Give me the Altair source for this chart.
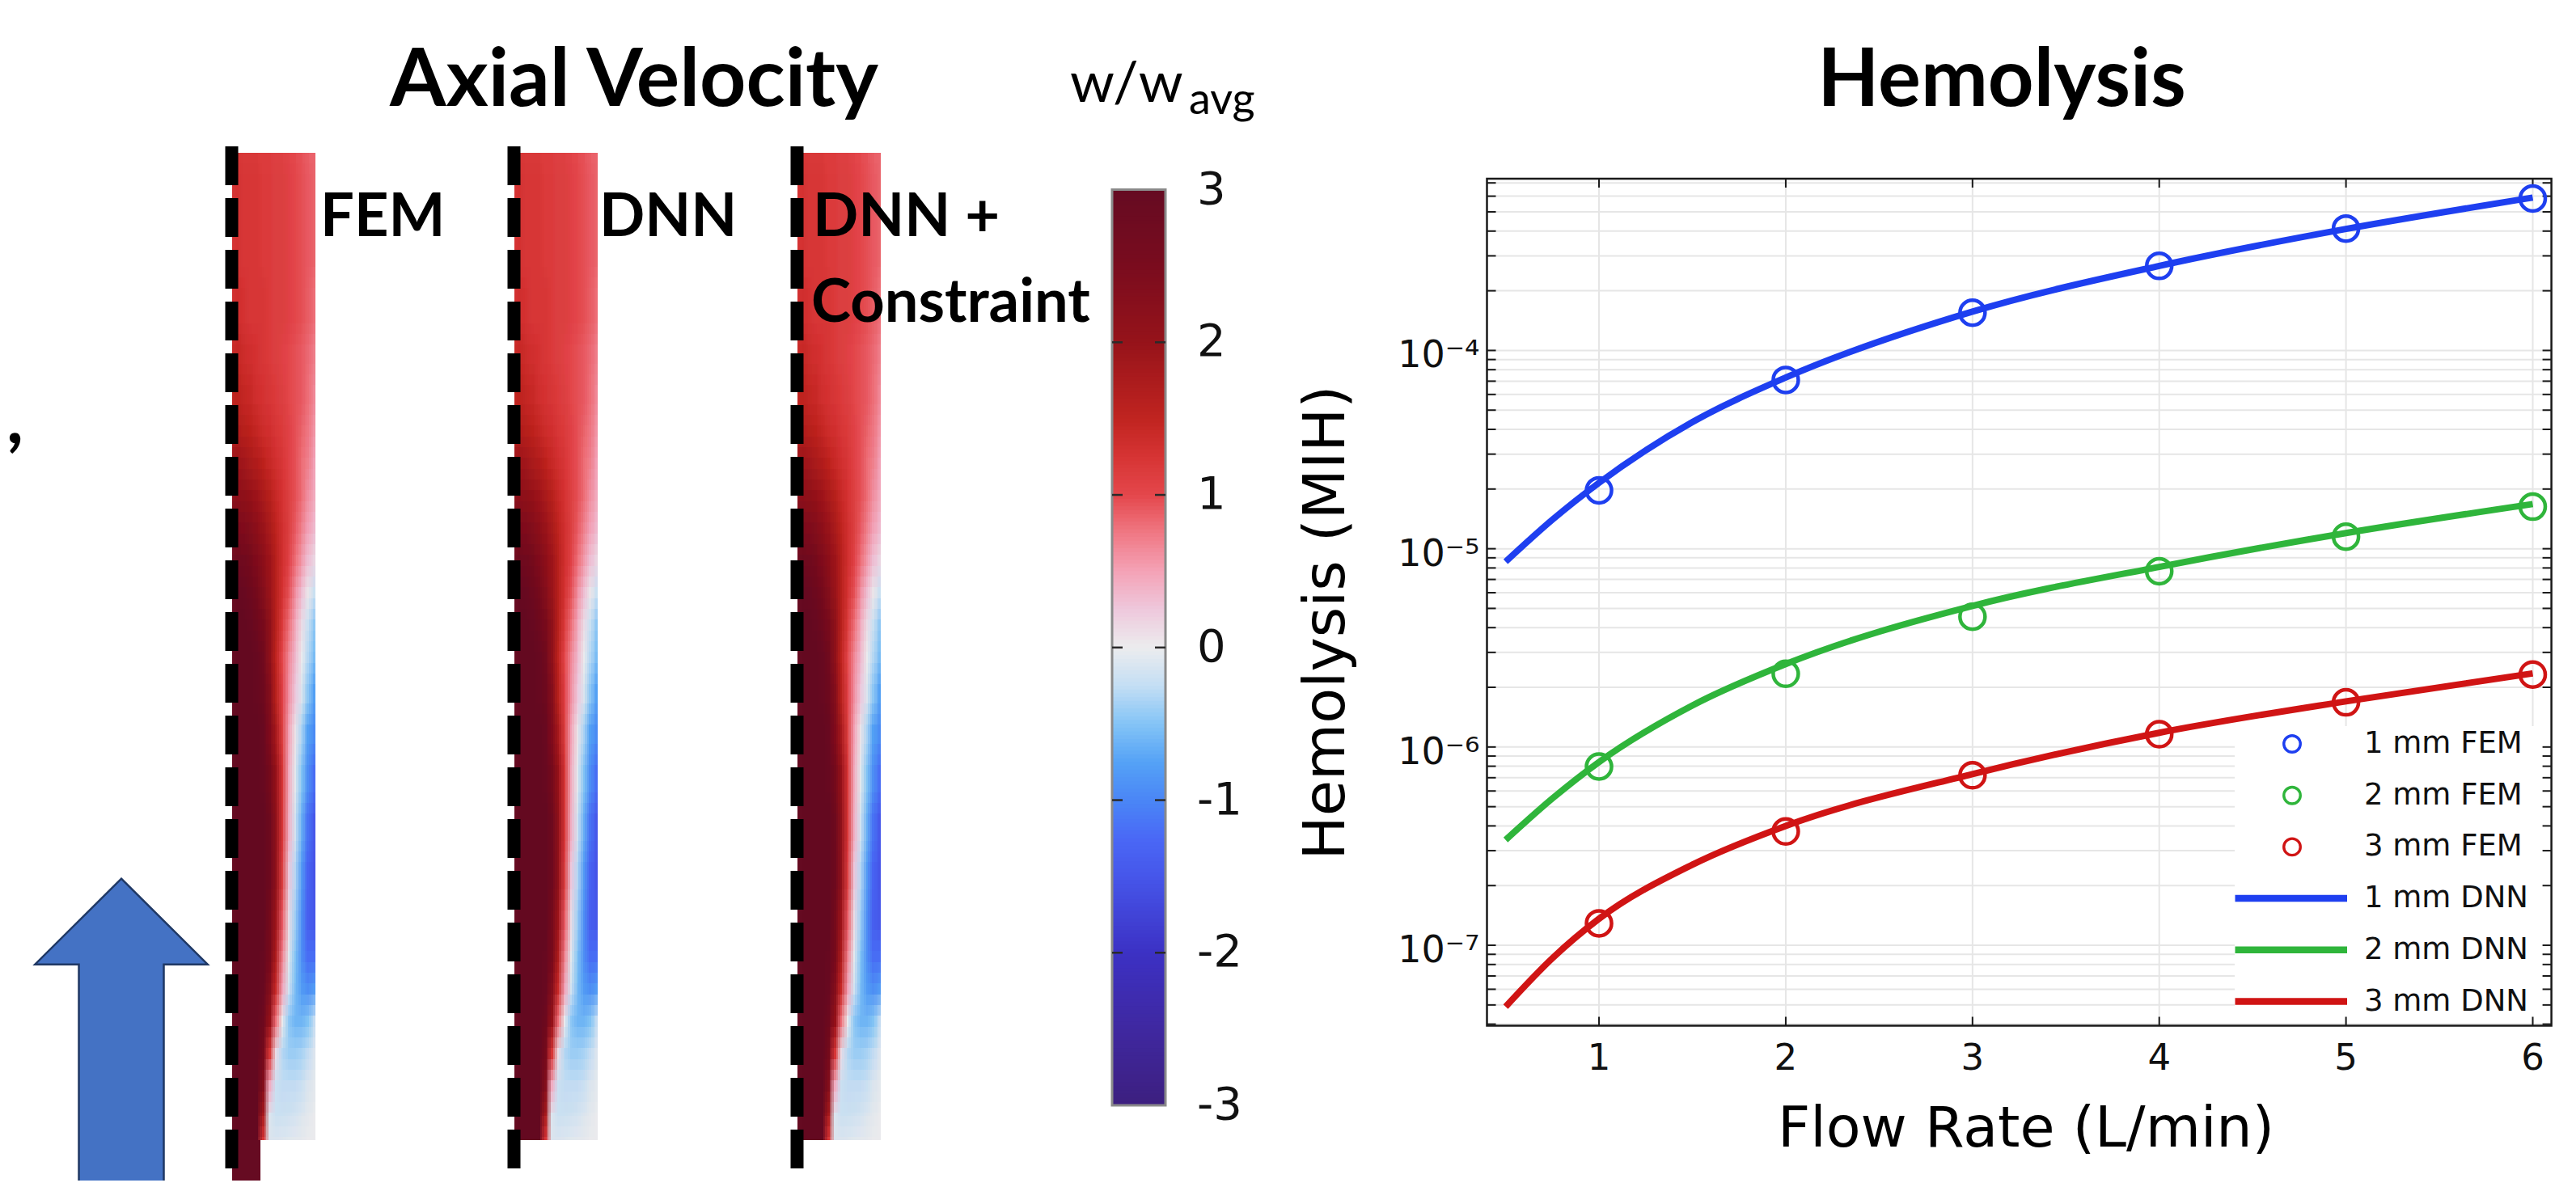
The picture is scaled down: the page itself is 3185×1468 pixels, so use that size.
import altair as alt
import pandas as pd

alt.data_transformers.disable_max_rows()

# ------------------------------------------------------------------
# Hemolysis data
# ------------------------------------------------------------------
SERIES = ["1 mm", "2 mm", "3 mm"]
SERIES_COLORS = ["#1e3ff0", "#2fb53b", "#d01414"]

FLOW_FEM = [1, 2, 3, 4, 5, 6]
FEM_1MM = [1.97e-5, 7.1e-5, 1.55e-4, 2.67e-4, 4.12e-4, 5.84e-4]
FEM_2MM = [7.97e-7, 2.34e-6, 4.54e-6, 7.7e-6, 1.15e-5, 1.63e-5]
FEM_3MM = [1.29e-7, 3.75e-7, 7.2e-7, 1.16e-6, 1.68e-6, 2.32e-6]

FLOW_DNN = [0.5, 0.75, 1, 1.5, 2, 3, 4, 5, 6]
DNN_1MM = [8.6e-6, 1.4e-5, 2.15e-5, 4.35e-5, 7.3e-5, 1.57e-4, 2.67e-4, 4.1e-4, 5.9e-4]
DNN_2MM = [3.4e-7, 5.5e-7, 8.4e-7, 1.62e-6, 2.62e-6, 5.15e-6, 8.1e-6, 1.2e-5, 1.68e-5]
DNN_3MM = [4.9e-8, 8.6e-8, 1.36e-7, 2.55e-7, 4.0e-7, 7.3e-7, 1.18e-6, 1.7e-6, 2.35e-6]

LEGEND_LABELS = ["1 mm FEM", "2 mm FEM", "3 mm FEM", "1 mm DNN", "2 mm DNN", "3 mm DNN"]

X_TICKS = [1, 2, 3, 4, 5, 6]
Y_DECADES = [-7, -6, -5, -4]
SUPERSCRIPT = {"-": "\u207b", "4": "\u2074", "5": "\u2075", "6": "\u2076", "7": "\u2077"}

# ------------------------------------------------------------------
# Axial velocity field w/w_avg (rows top -> bottom, 13 radial columns)
# ------------------------------------------------------------------
PANEL_NAMES = ["FEM", "DNN", "DNN + Constraint"]
Z_EDGES = [189, 260, 330, 400, 450, 500, 540, 580, 620, 660, 700, 740, 780, 820,
           870, 920, 980, 1040, 1100, 1150, 1190, 1230, 1270, 1310, 1350, 1380, 1410]
W_FIELD = [
    [1.25, 1.2, 1.2, 1.2, 1.15, 1.15, 1.1, 1.1, 1.05, 1.0, 0.95, 0.9, 0.85],
    [1.25, 1.2, 1.2, 1.2, 1.15, 1.15, 1.1, 1.1, 1.05, 1.0, 0.95, 0.9, 0.85],
    [1.3, 1.25, 1.2, 1.2, 1.2, 1.15, 1.1, 1.1, 1.05, 1.0, 0.95, 0.88, 0.8],
    [1.4, 1.35, 1.3, 1.25, 1.2, 1.15, 1.1, 1.05, 1.0, 0.95, 0.9, 0.82, 0.72],
    [1.5, 1.45, 1.4, 1.3, 1.25, 1.2, 1.15, 1.1, 1.0, 0.95, 0.9, 0.8, 0.65],
    [1.65, 1.6, 1.55, 1.45, 1.35, 1.3, 1.2, 1.15, 1.05, 0.95, 0.85, 0.75, 0.58],
    [1.9, 1.85, 1.75, 1.65, 1.55, 1.4, 1.3, 1.2, 1.05, 0.95, 0.8, 0.7, 0.5],
    [2.15, 2.1, 2.0, 1.9, 1.75, 1.6, 1.4, 1.25, 1.1, 0.95, 0.8, 0.6, 0.45],
    [2.45, 2.4, 2.3, 2.15, 1.95, 1.75, 1.5, 1.3, 1.1, 0.9, 0.7, 0.5, 0.35],
    [2.75, 2.7, 2.6, 2.4, 2.15, 1.9, 1.6, 1.3, 1.05, 0.8, 0.55, 0.3, 0.15],
    [2.95, 2.9, 2.8, 2.6, 2.3, 1.95, 1.6, 1.25, 0.95, 0.6, 0.3, 0.05, -0.2],
    [3.0, 3.0, 2.95, 2.8, 2.5, 2.1, 1.6, 1.15, 0.8, 0.45, 0.1, -0.2, -0.45],
    [3.0, 3.0, 3.0, 2.95, 2.7, 2.1, 1.5, 1.0, 0.65, 0.35, 0.0, -0.3, -0.55],
    [3.0, 3.0, 3.0, 2.95, 2.8, 2.3, 1.6, 1.05, 0.6, 0.25, -0.1, -0.45, -0.75],
    [3.0, 3.0, 3.0, 3.0, 2.9, 2.4, 1.8, 1.1, 0.5, 0.05, -0.35, -0.75, -0.95],
    [3.0, 3.0, 3.0, 3.0, 2.95, 2.6, 2.0, 1.2, 0.45, -0.05, -0.5, -0.9, -1.2],
    [3.0, 3.0, 3.0, 3.0, 3.0, 2.75, 2.1, 1.2, 0.4, -0.15, -0.65, -1.15, -1.45],
    [3.0, 3.0, 3.0, 3.0, 3.0, 2.8, 2.1, 1.1, 0.25, -0.3, -0.8, -1.3, -1.5],
    [3.0, 3.0, 3.0, 3.0, 3.0, 2.6, 1.9, 0.9, 0.1, -0.4, -0.9, -1.35, -1.45],
    [3.0, 3.0, 3.0, 3.0, 2.95, 2.5, 1.7, 0.7, -0.05, -0.5, -0.9, -1.2, -1.2],
    [3.0, 3.0, 3.0, 3.0, 2.9, 2.3, 1.4, 0.5, -0.15, -0.55, -0.8, -0.9, -0.8],
    [3.0, 3.0, 3.0, 3.0, 2.8, 2.0, 0.8, 0.0, -0.45, -0.6, -0.6, -0.5, -0.25],
    [3.0, 3.0, 3.0, 3.0, 2.6, 1.2, 0.1, -0.3, -0.4, -0.4, -0.35, -0.25, -0.1],
    [3.0, 3.0, 3.0, 3.0, 2.3, 0.4, -0.2, -0.25, -0.25, -0.25, -0.2, -0.1, -0.05],
    [3.0, 3.0, 3.0, 3.0, 1.8, -0.1, -0.2, -0.2, -0.18, -0.15, -0.1, -0.05, 0.0],
    [3.0, 3.0, 3.0, 3.0, 1.2, -0.1, -0.1, -0.08, -0.06, -0.05, -0.03, 0.0, 0.0],
]
INLET_W_VALUE = 3.0

CBAR_TICKS = [3, 2, 1, 0, -1, -2, -3]
CMAP_STOPS = [-3, -2.5, -2, -1.5, -1.25, -1, -0.75, -0.5, -0.25, 0,
              0.25, 0.5, 0.75, 1, 1.25, 1.5, 2, 2.5, 3]
CMAP_COLORS = ["#3d1f7f", "#3f28a0", "#3c31c4", "#4656ea", "#4a68f6", "#4a86f6",
               "#55a2f6", "#84c4f6", "#c4def4", "#ececee", "#eec8dc", "#f4a2b6",
               "#f07884", "#e4474b", "#d63434", "#c02420", "#96131a", "#7a0c1e", "#660b22"]

# ------------------------------------------------------------------
# Layout (pixel geometry of the figure)
# ------------------------------------------------------------------
OFF = 8
W, H = 3169, 1452
PANEL_LEFT = [287, 636, 986]
STRIP_W = 103
INLET_W = 35
DASH_TOP = 181
CB_X0, CB_X1, CB_TOP, CB_BOTTOM = 1375, 1441, 234.6, 1367
HX_DOMAIN = [0.4, 6.1]
HX_RANGE = [1838.5, 3154.6]
HY_DOMAIN = [3.93e-8, 7.35e-4]
HY_RANGE = [1268.5, 221]
LEG_X_LINE = (2763.5, 2902)
LEG_X_MARK = 2834
LEG_X_TEXT = 2923
LEG_Y0, LEG_DY = 920, 63.7
LEG_BOX = (2763, 3153, 898, 1262)
SMOOTH_X = 3            # sub-cell render passes (horizontal)
SMOOTH_Y = [0, 13, 26]  # sub-row render offsets in px (vertical)

PX_X = alt.Scale(domain=[OFF, OFF + W], range=[0, W], nice=False, zero=False)
PX_Y = alt.Scale(domain=[OFF, OFF + H], range=[0, H], nice=False, zero=False)
CMAP = alt.Scale(domain=CMAP_STOPS, range=CMAP_COLORS, clamp=True, interpolate="rgb")
HX = alt.Scale(domain=HX_DOMAIN, range=[v - OFF for v in HX_RANGE], nice=False, zero=False)
HY = alt.Scale(type="log", domain=HY_DOMAIN, range=[v - OFF for v in HY_RANGE], nice=False)
CB_Y = alt.Scale(domain=[-3, 3], range=[CB_BOTTOM - OFF, CB_TOP - OFF], nice=False, zero=False)
SER_COLOR = alt.Scale(domain=SERIES, range=SERIES_COLORS)


def text_layer(txt, x, y, size, font="Lato", weight="normal", align="left",
               baseline="alphabetic", angle=0, color="#000000"):
    return alt.Chart(pd.DataFrame({"t": [txt]})).mark_text(
        font=font, fontSize=size, fontWeight=weight, align=align,
        baseline=baseline, angle=angle, color=color
    ).encode(x=alt.value(x - OFF), y=alt.value(y - OFF), text="t:N")


# ---------------- velocity strips ----------------
# Each read cell is drawn in several slightly offset passes with decreasing
# opacity (1, 1/2, 1/3, ...), which blends neighbouring cells like the
# smooth shading of the original.
ncol = len(W_FIELD[0])
cw = STRIP_W / ncol
ztop, zbot = Z_EDGES[0], Z_EDGES[-1]
cells = []
passes = [(a, dy) for a in range(SMOOTH_X) for dy in SMOOTH_Y]
for k, (a, dy) in enumerate(passes):
    op = 1.0 / (k + 1)
    for p, xl in enumerate(PANEL_LEFT):
        xr = xl + STRIP_W
        xedges = [round(xl + j * cw + a * cw / SMOOTH_X) for j in range(ncol + 1)]
        zedges = [round(z + dy) for z in Z_EDGES]
        for i, row in enumerate(W_FIELD):
            y0, y1 = max(zedges[i], ztop), min(zedges[i + 1], zbot)
            if y1 <= y0:
                continue
            for j, w in enumerate(row):
                x0, x1 = max(xedges[j], xl), min(xedges[j + 1], xr)
                if x1 <= x0:
                    continue
                cells.append({"panel": PANEL_NAMES[p], "x0": x0, "x1": x1,
                              "y0": y0, "y1": y1, "w": w, "op": op})
cells.append({"panel": "FEM", "x0": PANEL_LEFT[0], "x1": PANEL_LEFT[0] + INLET_W,
              "y0": zbot, "y1": OFF + H + 30, "w": INLET_W_VALUE, "op": 1.0})
cells_df = pd.DataFrame(cells)

strips = alt.Chart(cells_df).mark_rect(strokeWidth=0).encode(
    x=alt.X("x0:Q", scale=PX_X, axis=None), x2="x1:Q",
    y=alt.Y("y0:Q", scale=PX_Y, axis=None), y2="y1:Q",
    color=alt.Color("w:Q", scale=CMAP, legend=None),
    opacity=alt.Opacity("op:Q", scale=None, legend=None),
)

dash_df = pd.DataFrame({"x": [xl - 0.5 for xl in PANEL_LEFT], "y0": DASH_TOP, "y1": OFF + H + 40})
dashes = alt.Chart(dash_df).mark_rule(color="#000000", strokeWidth=16, strokeDash=[48, 16]).encode(
    x=alt.X("x:Q", scale=PX_X, axis=None),
    y=alt.Y("y0:Q", scale=PX_Y, axis=None), y2="y1:Q",
)

# ---------------- colorbar ----------------
steps = [-3 + k * 0.025 for k in range(240)]
cb_df = pd.DataFrame({"v0": steps, "v1": [s + 0.033 for s in steps],
                      "v": [s + 0.0125 for s in steps], "x0": CB_X0, "x1": CB_X1})
cb_cells = alt.Chart(cb_df).mark_rect(strokeWidth=0).encode(
    x=alt.X("x0:Q", scale=PX_X, axis=None), x2="x1:Q",
    y=alt.Y("v0:Q", scale=CB_Y, axis=None), y2="v1:Q",
    color=alt.Color("v:Q", scale=CMAP, legend=None),
)
cb_frame = alt.Chart(pd.DataFrame({"x0": [CB_X0], "x1": [CB_X1], "a": [-3], "b": [3]})).mark_rect(
    fillOpacity=0, stroke="#8a8a8a", strokeWidth=3).encode(
    x=alt.X("x0:Q", scale=PX_X, axis=None), x2="x1:Q",
    y=alt.Y("a:Q", scale=CB_Y, axis=None), y2="b:Q")
inner = [t for t in CBAR_TICKS if -3 < t < 3]
cb_tick_df = pd.DataFrame({"v": inner * 2,
                           "xa": [CB_X0] * len(inner) + [CB_X1 - 13] * len(inner),
                           "xb": [CB_X0 + 13] * len(inner) + [CB_X1] * len(inner)})
cb_ticks = alt.Chart(cb_tick_df).mark_rule(color="#2a2a2a", strokeWidth=2.5).encode(
    x=alt.X("xa:Q", scale=PX_X, axis=None), x2="xb:Q",
    y=alt.Y("v:Q", scale=CB_Y, axis=None))
cb_lab_df = pd.DataFrame({"v": CBAR_TICKS, "t": [str(t) for t in CBAR_TICKS]})
cb_labels = alt.Chart(cb_lab_df).mark_text(font="DejaVu Sans", fontSize=56, align="left",
                                           baseline="middle", color="#111111").encode(
    x=alt.value(1480 - OFF), y=alt.Y("v:Q", scale=CB_Y, axis=None), text="t:N")
cbar = alt.layer(cb_cells, cb_frame, cb_ticks, cb_labels)

# ---------------- hemolysis plot ----------------
ymin, ymax = HY_DOMAIN
xmin, xmax = HX_DOMAIN
grid_y = [k * 10.0 ** e for e in range(-8, -3) for k in range(1, 10) if ymin < k * 10.0 ** e < ymax]
hgrid_df = pd.DataFrame({"y": grid_y, "x0": xmin, "x1": xmax})
vgrid_df = pd.DataFrame({"x": X_TICKS, "y0": ymin, "y1": ymax})

hgrid = alt.Chart(hgrid_df).mark_rule(color="#e6e6e6", strokeWidth=2).encode(
    x=alt.X("x0:Q", scale=HX, axis=None), x2="x1:Q", y=alt.Y("y:Q", scale=HY, axis=None))
vgrid = alt.Chart(vgrid_df).mark_rule(color="#e6e6e6", strokeWidth=2).encode(
    x=alt.X("x:Q", scale=HX, axis=None), y=alt.Y("y0:Q", scale=HY, axis=None), y2="y1:Q")
hemo_under = alt.layer(hgrid, vgrid)

fem_rows, dnn_rows = [], []
for s, vals in zip(SERIES, [FEM_1MM, FEM_2MM, FEM_3MM]):
    for f, v in zip(FLOW_FEM, vals):
        fem_rows.append({"flow": f, "mih": v, "series": s})
for s, vals in zip(SERIES, [DNN_1MM, DNN_2MM, DNN_3MM]):
    for f, v in zip(FLOW_DNN, vals):
        dnn_rows.append({"flow": f, "mih": v, "series": s})
fem_df = pd.DataFrame(fem_rows)
dnn_df = pd.DataFrame(dnn_rows)

frame = alt.Chart(pd.DataFrame({"x0": [xmin], "x1": [xmax], "y0": [ymin], "y1": [ymax]})).mark_rect(
    fillOpacity=0, stroke="#1a1a1a", strokeWidth=2.5).encode(
    x=alt.X("x0:Q", scale=HX, axis=None), x2="x1:Q",
    y=alt.Y("y0:Q", scale=HY, axis=None), y2="y1:Q")
tick_left = alt.Chart(hgrid_df).mark_rule(color="#1a1a1a", strokeWidth=2, x2Offset=11).encode(
    x=alt.X("x0:Q", scale=HX, axis=None), x2="x0:Q", y=alt.Y("y:Q", scale=HY, axis=None))
tick_right = alt.Chart(hgrid_df).mark_rule(color="#1a1a1a", strokeWidth=2, x2Offset=-11).encode(
    x=alt.X("x1:Q", scale=HX, axis=None), x2="x1:Q", y=alt.Y("y:Q", scale=HY, axis=None))
tick_bottom = alt.Chart(vgrid_df).mark_rule(color="#1a1a1a", strokeWidth=2, y2Offset=-11).encode(
    x=alt.X("x:Q", scale=HX, axis=None), y=alt.Y("y0:Q", scale=HY, axis=None), y2="y0:Q")
tick_top = alt.Chart(vgrid_df).mark_rule(color="#1a1a1a", strokeWidth=2, y2Offset=11).encode(
    x=alt.X("x:Q", scale=HX, axis=None), y=alt.Y("y1:Q", scale=HY, axis=None), y2="y1:Q")

lines = alt.Chart(dnn_df).mark_line(strokeWidth=8, interpolate="monotone").encode(
    x=alt.X("flow:Q", scale=HX, axis=None), y=alt.Y("mih:Q", scale=HY, axis=None),
    color=alt.Color("series:N", scale=SER_COLOR, legend=None), detail="series:N")
points = alt.Chart(fem_df).mark_point(filled=False, size=31 ** 2, strokeWidth=4.5, opacity=1).encode(
    x=alt.X("flow:Q", scale=HX, axis=None), y=alt.Y("mih:Q", scale=HY, axis=None),
    color=alt.Color("series:N", scale=SER_COLOR, legend=None))

ylab_df = pd.DataFrame({"y": [10.0 ** e for e in Y_DECADES], "x0": xmin,
                        "t": ["10" + "".join(SUPERSCRIPT[c] for c in str(e)) for e in Y_DECADES]})
ylabels = alt.Chart(ylab_df).mark_text(font="DejaVu Sans", fontSize=46, align="right",
                                       baseline="alphabetic", dx=-9, dy=21, color="#111111").encode(
    x=alt.X("x0:Q", scale=HX, axis=None), y=alt.Y("y:Q", scale=HY, axis=None), text="t:N")
xlab_df = pd.DataFrame({"x": X_TICKS, "y0": ymin, "t": [str(v) for v in X_TICKS]})
xlabels = alt.Chart(xlab_df).mark_text(font="DejaVu Sans", fontSize=45, align="center",
                                       baseline="alphabetic", dy=54, color="#111111").encode(
    x=alt.X("x:Q", scale=HX, axis=None), y=alt.Y("y0:Q", scale=HY, axis=None), text="t:N")
hemo_over = alt.layer(frame, tick_left, tick_right, tick_bottom, tick_top, lines, points, ylabels, xlabels)

# ---------------- legend ----------------
leg_bg = alt.Chart(pd.DataFrame({"x0": [LEG_BOX[0]], "x1": [LEG_BOX[1]],
                                 "y0": [LEG_BOX[2]], "y1": [LEG_BOX[3]]})).mark_rect(
    fill="#ffffff", strokeWidth=0).encode(
    x=alt.X("x0:Q", scale=PX_X, axis=None), x2="x1:Q",
    y=alt.Y("y0:Q", scale=PX_Y, axis=None), y2="y1:Q")
leg_df = pd.DataFrame({"t": LEGEND_LABELS,
                       "series": SERIES + SERIES,
                       "kind": ["FEM"] * 3 + ["DNN"] * 3,
                       "y": [LEG_Y0 + i * LEG_DY for i in range(len(LEGEND_LABELS))]})
leg_pts = alt.Chart(leg_df[leg_df.kind == "FEM"]).mark_point(
    filled=False, size=420, strokeWidth=3.4, opacity=1).encode(
    x=alt.value(LEG_X_MARK - OFF), y=alt.Y("y:Q", scale=PX_Y, axis=None),
    color=alt.Color("series:N", scale=SER_COLOR, legend=None))
leg_lines = alt.Chart(leg_df[leg_df.kind == "DNN"]).mark_rule(strokeWidth=8.5).encode(
    x=alt.value(LEG_X_LINE[0] - OFF), x2=alt.value(LEG_X_LINE[1] - OFF),
    y=alt.Y("y:Q", scale=PX_Y, axis=None),
    color=alt.Color("series:N", scale=SER_COLOR, legend=None))
leg_text = alt.Chart(leg_df).mark_text(font="DejaVu Sans", fontSize=37, align="left",
                                       baseline="middle", color="#111111").encode(
    x=alt.value(LEG_X_TEXT - OFF), y=alt.Y("y:Q", scale=PX_Y, axis=None), text="t:N")
legend_items = alt.layer(leg_pts, leg_lines, leg_text)

# ---------------- arrow ----------------
ARROW_PATH = ("M0,-1 L0.5335,-0.47 L0.2625,-0.47 L0.2625,1 L-0.2625,1 "
              "L-0.2625,-0.47 L-0.5335,-0.47 Z")
ARROW_SCALE = 200
arrow = alt.Chart(pd.DataFrame({"a": [0]})).mark_point(
    shape=ARROW_PATH, size=(2 * ARROW_SCALE) ** 2, filled=True, fill="#4472c4",
    stroke="#1f3864", strokeWidth=2.5, opacity=1).encode(
    x=alt.value(150 - OFF), y=alt.value(1086.7 + ARROW_SCALE - OFF))

# ---------------- texts ----------------
texts = [
    text_layer("Axial Velocity", 784, 131, 100, weight="bold", align="center"),
    text_layer("FEM", 396, 292, 74, weight="bold"),
    text_layer("DNN", 741, 292, 74, weight="bold"),
    text_layer("DNN +", 1005, 292, 74, weight="bold"),
    text_layer("Constraint", 1003, 398, 74, weight="bold"),
    text_layer("w/w", 1323, 126, 70),
    text_layer("avg", 1470, 141, 54),
    text_layer("Hemolysis", 2475, 131, 99, weight="bold", align="center"),
    text_layer("Flow Rate (L/min)", 2505, 1418, 70, font="DejaVu Sans", align="center"),
    text_layer("Hemolysis (MIH)", 1662, 770, 72, font="DejaVu Sans", align="center", angle=270),
    text_layer(",", 8, 548, 90, weight="bold"),
]

chart = alt.layer(
    strips, dashes, cbar, hemo_under, leg_bg, hemo_over, legend_items, arrow, *texts
).resolve_scale(
    x="independent", y="independent", color="independent"
).properties(
    width=W, height=H, padding=0, background="#ffffff",
    autosize=alt.AutoSizeParams(type="none"),
).configure_view(strokeWidth=0)

chart.save("out.html", embed_options={"renderer": "svg", "actions": False})
